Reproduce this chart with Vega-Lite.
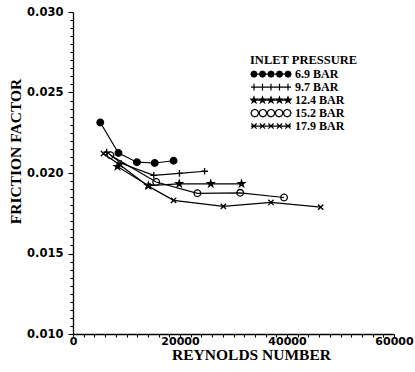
{
  "$schema": "https://vega.github.io/schema/vega-lite/v6.json",
  "width": 321,
  "height": 322,
  "autosize": {"type": "none"},
  "padding": {"left": 73, "top": 12, "right": 21, "bottom": 38},
  "background": "white",
  "config": {
    "view": {"stroke": null},
    "axis": {
      "grid": false,
      "domainColor": "black",
      "domainWidth": 1.3,
      "tickColor": "black",
      "tickWidth": 1.1,
      "labelFont": "DejaVu Sans",
      "labelFontWeight": "bold",
      "labelFontSize": 11.5,
      "labelColor": "black",
      "labelOverlap": false,
      "labelFlush": false,
      "labelBound": false,
      "titleFont": "Liberation Serif",
      "titleFontWeight": "bold",
      "titleColor": "black"
    },
    "legend": {
      "titleFont": "Liberation Serif",
      "titleFontWeight": "bold",
      "titleFontSize": 12.5,
      "titleColor": "black",
      "titleBaseline": "top",
      "titlePadding": 3,
      "labelFont": "Liberation Serif",
      "labelFontWeight": "bold",
      "labelFontSize": 12,
      "labelColor": "black",
      "labelOffset": 3,
      "symbolSize": 1600,
      "clipHeight": 9.2,
      "rowPadding": 0,
      "padding": 0,
      "symbolStrokeWidth": 1.2,
      "symbolStrokeColor": "black",
      "symbolOpacity": 1
    }
  },
  "data": {
    "values": [
      {"re": 5100, "f": 0.02314, "series": "6.9 BAR"},
      {"re": 8500, "f": 0.02124, "series": "6.9 BAR"},
      {"re": 11950, "f": 0.02067, "series": "6.9 BAR"},
      {"re": 15270, "f": 0.02062, "series": "6.9 BAR"},
      {"re": 18800, "f": 0.02076, "series": "6.9 BAR"},
      {"re": 6300, "f": 0.0213, "series": "9.7 BAR"},
      {"re": 9000, "f": 0.0206, "series": "9.7 BAR"},
      {"re": 15100, "f": 0.01985, "series": "9.7 BAR"},
      {"re": 19900, "f": 0.01998, "series": "9.7 BAR"},
      {"re": 24600, "f": 0.02011, "series": "9.7 BAR"},
      {"re": 8300, "f": 0.0204, "series": "12.4 BAR"},
      {"re": 14100, "f": 0.01921, "series": "12.4 BAR"},
      {"re": 19850, "f": 0.01933, "series": "12.4 BAR"},
      {"re": 25750, "f": 0.01933, "series": "12.4 BAR"},
      {"re": 31500, "f": 0.01933, "series": "12.4 BAR"},
      {"re": 7000, "f": 0.0211, "series": "15.2 BAR"},
      {"re": 15550, "f": 0.01944, "series": "15.2 BAR"},
      {"re": 23250, "f": 0.01874, "series": "15.2 BAR"},
      {"re": 31250, "f": 0.01877, "series": "15.2 BAR"},
      {"re": 39450, "f": 0.01848, "series": "15.2 BAR"},
      {"re": 5700, "f": 0.0212, "series": "17.9 BAR"},
      {"re": 8800, "f": 0.0205, "series": "17.9 BAR"},
      {"re": 14000, "f": 0.0192, "series": "17.9 BAR"},
      {"re": 18800, "f": 0.0183, "series": "17.9 BAR"},
      {"re": 28100, "f": 0.01793, "series": "17.9 BAR"},
      {"re": 37000, "f": 0.01817, "series": "17.9 BAR"},
      {"re": 46300, "f": 0.01788, "series": "17.9 BAR"}
    ]
  },
  "encoding": {
    "x": {
      "field": "re",
      "type": "quantitative",
      "scale": {"domain": [0, 60000], "nice": false, "zero": false},
      "axis": {
        "title": "REYNOLDS NUMBER",
        "titleFontSize": 15.5,
        "titleX": 178,
        "titleY": 25.5,
        "titleAlign": "center",
        "titleBaseline": "alphabetic",
        "format": "d",
        "values": [0,2000,4000,6000,8000,10000,12000,14000,16000,18000,20000,22000,24000,26000,28000,30000,32000,34000,36000,38000,40000,42000,44000,46000,48000,50000,52000,54000,56000,58000,60000],
        "labelExpr": "datum.value % 20000 === 0 ? datum.label : ''",
        "tickSize": 3,
        "labelPadding": -2,
        "labelFontSize": 11,
        "labelBaseline": "top"
      }
    },
    "y": {
      "field": "f",
      "type": "quantitative",
      "scale": {"domain": [0.01, 0.03], "nice": false, "zero": false},
      "axis": {
        "title": "FRICTION FACTOR",
        "titleFontSize": 15.5,
        "titleAngle": 270,
        "titleX": -53,
        "titleY": 139,
        "titleAlign": "center",
        "titleBaseline": "alphabetic",
        "format": ".3f",
        "values": [0.01,0.0105,0.011,0.0115,0.012,0.0125,0.013,0.0135,0.014,0.0145,0.015,0.0155,0.016,0.0165,0.017,0.0175,0.018,0.0185,0.019,0.0195,0.02,0.0205,0.021,0.0215,0.022,0.0225,0.023,0.0235,0.024,0.0245,0.025,0.0255,0.026,0.0265,0.027,0.0275,0.028,0.0285,0.029,0.0295,0.03],
        "labelExpr": "abs(datum.value*200 - round(datum.value*200)) < 0.000001 ? datum.label : ''",
        "tickSize": {"condition": {"test": "abs(datum.value*200 - round(datum.value*200)) < 0.000001", "value": 5}, "value": 3},
        "labelPadding": 5
      }
    }
  },
  "resolve": {
    "scale": {"shape": "independent", "fill": "independent"},
    "legend": {"shape": "independent", "fill": "independent"}
  },
  "layer": [
    {
      "mark": {"type": "line", "color": "black", "strokeWidth": 1.2},
      "encoding": {"detail": {"field": "series"}}
    },
    {
      "mark": {"type": "point", "filled": true, "stroke": "black", "strokeWidth": 1.3, "size": 44, "opacity": 1},
      "encoding": {
        "shape": {
          "field": "series",
          "type": "nominal",
          "scale": {
            "domain": ["6.9 BAR", "9.7 BAR", "12.4 BAR", "15.2 BAR", "17.9 BAR"],
            "range": ["circle", "M-1,0H1M0,-1V1", "M0,-1L0.22,-0.31L0.95,-0.31L0.36,0.12L0.59,0.81L0,0.38L-0.59,0.81L-0.36,0.12L-0.95,-0.31L-0.22,-0.31Z", "circle", "M-0.8,-0.8L0.8,0.8M-0.8,0.8L0.8,-0.8"]
          },
          "legend": null
        },
        "fill": {
          "field": "series",
          "type": "nominal",
          "scale": {
            "domain": ["6.9 BAR", "9.7 BAR", "12.4 BAR", "15.2 BAR", "17.9 BAR"],
            "range": ["black", "transparent", "black", "transparent", "transparent"]
          },
          "legend": null
        }
      }
    },
    {
      "mark": {"type": "point", "filled": true, "stroke": "black", "strokeWidth": 1.2, "size": 4, "opacity": 0},
      "encoding": {
        "shape": {
          "field": "series",
          "type": "nominal",
          "scale": {
            "domain": ["6.9 BAR", "9.7 BAR", "12.4 BAR", "15.2 BAR", "17.9 BAR"],
            "range": [
              "M-1,0H1M-0.7,0l-0.044,0.106l-0.106,0.044l-0.106,-0.044l-0.044,-0.106l0.044,-0.106l0.106,-0.044l0.106,0.044zM-0.275,0l-0.044,0.106l-0.106,0.044l-0.106,-0.044l-0.044,-0.106l0.044,-0.106l0.106,-0.044l0.106,0.044zM0.15,0l-0.044,0.106l-0.106,0.044l-0.106,-0.044l-0.044,-0.106l0.044,-0.106l0.106,-0.044l0.106,0.044zM0.575,0l-0.044,0.106l-0.106,0.044l-0.106,-0.044l-0.044,-0.106l0.044,-0.106l0.106,-0.044l0.106,0.044zM1,0l-0.044,0.106l-0.106,0.044l-0.106,-0.044l-0.044,-0.106l0.044,-0.106l0.106,-0.044l0.106,0.044z",
              "M-1,0H1M-0.85,-0.17V0.17M-0.425,-0.17V0.17M0,-0.17V0.17M0.425,-0.17V0.17M0.85,-0.17V0.17",
              "M-1,0H1M-0.85,-0.16l0.036,0.111l0.116,0l-0.094,0.068l0.036,0.11l-0.094,-0.068l-0.094,0.068l0.036,-0.11l-0.094,-0.068l0.116,0zM-0.425,-0.16l0.036,0.111l0.116,0l-0.094,0.068l0.036,0.11l-0.094,-0.068l-0.094,0.068l0.036,-0.11l-0.094,-0.068l0.116,0zM0,-0.16l0.036,0.111l0.116,0l-0.094,0.068l0.036,0.11l-0.094,-0.068l-0.094,0.068l0.036,-0.11l-0.094,-0.068l0.116,0zM0.425,-0.16l0.036,0.111l0.116,0l-0.094,0.068l0.036,0.11l-0.094,-0.068l-0.094,0.068l0.036,-0.11l-0.094,-0.068l0.116,0zM0.85,-0.16l0.036,0.111l0.116,0l-0.094,0.068l0.036,0.11l-0.094,-0.068l-0.094,0.068l0.036,-0.11l-0.094,-0.068l0.116,0z",
              "M-0.62,0l-0.056,0.134l-0.134,0.056l-0.134,-0.056l-0.056,-0.134l0.056,-0.134l0.134,-0.056l0.134,0.056zM-0.215,0l-0.056,0.134l-0.134,0.056l-0.134,-0.056l-0.056,-0.134l0.056,-0.134l0.134,-0.056l0.134,0.056zM0.19,0l-0.056,0.134l-0.134,0.056l-0.134,-0.056l-0.056,-0.134l0.056,-0.134l0.134,-0.056l0.134,0.056zM0.595,0l-0.056,0.134l-0.134,0.056l-0.134,-0.056l-0.056,-0.134l0.056,-0.134l0.134,-0.056l0.134,0.056zM1,0l-0.056,0.134l-0.134,0.056l-0.134,-0.056l-0.056,-0.134l0.056,-0.134l0.134,-0.056l0.134,0.056z",
              "M-1,0H1M-0.98,-0.13l0.26,0.26m0,-0.26l-0.26,0.26M-0.555,-0.13l0.26,0.26m0,-0.26l-0.26,0.26M-0.13,-0.13l0.26,0.26m0,-0.26l-0.26,0.26M0.295,-0.13l0.26,0.26m0,-0.26l-0.26,0.26M0.72,-0.13l0.26,0.26m0,-0.26l-0.26,0.26"
            ]
          }
        },
        "fill": {
          "field": "series",
          "type": "nominal",
          "scale": {
            "domain": ["6.9 BAR", "9.7 BAR", "12.4 BAR", "15.2 BAR", "17.9 BAR"],
            "range": ["black", "transparent", "black", "transparent", "transparent"]
          },
          "legend": {
            "title": "INLET PRESSURE",
            "orient": "none",
            "legendX": 177,
            "legendY": 42,
            "encode": {
              "symbols": {
                "update": {
                  "stroke": {"value": "black"},
                  "strokeWidth": {"value": 1.2},
                  "opacity": {"value": 1}
                }
              }
            }
          }
        }
      }
    }
  ]
}
